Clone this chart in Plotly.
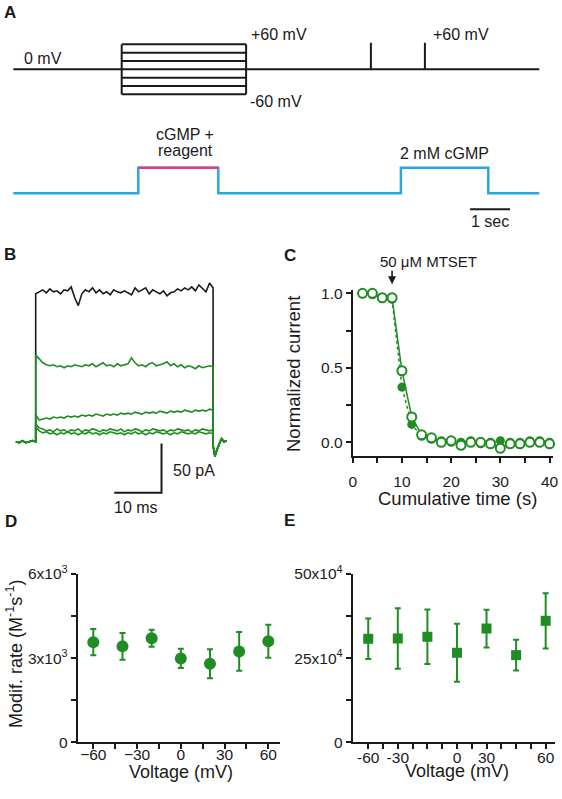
import numpy as np
import plotly.graph_objects as go

W, H = 562, 799
FONT = "Liberation Sans, Arial, sans-serif"
GREEN = "#1f8c24"
BLUE = "#2aa7e0"
PINK = "#e8388a"
INK = "#1a1a1a"

# ---------------- Panel A: protocol ----------------
step_levels_mv = [-60, -40, -20, 0, 20, 40, 60]
step_on_s, step_off_s = 2.71, 5.82
protocol_t = [0, 2.71, None, 5.82, 8.94, 8.94, 8.94, 10.29, 10.29, 10.29, 13.15]
protocol_mv = [0, 0, None, 0, 0, 64, 0, 0, 64, 0, 0]
sol_t = [0, 3.125, 3.125, 5.125, 5.125, 9.69, 9.69, 11.875, 11.875, 13.15]
sol_state = [0, 0, 1, 1, 0, 0, 1, 1, 0, 0]
reagent_t = [3.125, 5.125]
reagent_state = [1, 1]
sec_bar_t = [11.42, 12.42]
sec_bar_level = [-0.625, -0.625]

# ---------------- Panel B: current traces ----------------
pre_t = [-4.2, -3.5, -2.8, -2.1, -1.4, -0.7, 0]
pre_pA = [0, -1, 1, -1, 0, 1, 0]
pulse_t = list(np.round(np.arange(0, 37.51, 0.75), 3))
black_pA = [150, 152, 154, 151, 155, 152, 153, 150, 154, 153, 157, 146, 138, 150, 154,
            152, 156, 151, 154, 150, 152, 149, 154, 152, 151, 153, 151, 149, 156, 152,
            154, 156, 150, 154, 152, 150, 153, 148, 151, 152, 155, 153, 156, 154, 157,
            153, 159, 155, 152, 161, 156]
green1_pA = [88, 84, 80, 78, 77, 78, 76, 77, 75, 77, 76, 78, 77, 76, 78, 77, 79, 76, 78,
             80, 77, 78, 76, 79, 77, 78, 79, 85, 80, 77, 78, 76, 79, 80, 77, 78, 79, 81,
             77, 79, 76, 78, 75, 77, 76, 74, 77, 75, 76, 77, 76]
green2_pA = [27, 22, 23, 24, 23, 25, 24, 25, 24, 26, 25, 26, 25, 27, 26, 27, 26, 28, 27,
             26, 28, 27, 28, 27, 29, 28, 29, 28, 30, 29, 28, 30, 29, 30, 29, 31, 30, 29,
             31, 30, 31, 30, 32, 31, 30, 32, 31, 32, 31, 33, 32]
green3_pA = [18, 14, 13, 11, 12, 10, 13, 11, 12, 10, 12, 11, 13, 10, 12, 11, 13, 12, 10,
             12, 11, 13, 12, 11, 13, 10, 12, 11, 13, 12, 10, 12, 11, 13, 12, 11, 12, 10,
             12, 11, 13, 12, 11, 12, 10, 12, 11, 13, 12, 11, 12]
green4_pA = [15, 11, 9, 10, 8, 9, 7, 9, 8, 10, 8, 9, 7, 9, 8, 10, 8, 9, 7, 9, 8, 10, 9,
             8, 9, 7, 9, 8, 10, 8, 9, 7, 9, 8, 10, 9, 8, 9, 7, 9, 8, 10, 9, 8, 9, 8, 10,
             9, 8, 9, 8]
tail_t = [37.5, 37.9, 38.3, 38.8, 39.3, 39.8, 40.4]
tail_pA = [-4, -15, -8, -2, 3, 0, 1]
bar_ms, bar_pA = 10, 50
bar_corner = (26.6, -51.7)

# ---------------- Panel C: time course ----------------
time_s = [2, 4, 6, 8, 10, 12, 14, 16, 18, 20, 22, 24, 26, 28, 30, 32, 34, 36, 38, 40]
open_norm = [1.00, 1.00, 0.97, 0.97, 0.48, 0.17, 0.05, 0.03, 0.00, 0.01, -0.02, 0.00,
             0.00, -0.01, -0.04, -0.01, -0.01, 0.00, 0.00, -0.01]
filled_norm = [1.00, 0.99, 0.97, 0.96, 0.37, 0.12, 0.04, 0.02, 0.01, 0.00, 0.00, 0.01,
               -0.01, 0.00, 0.01, 0.00, 0.00, 0.01, 0.01, 0.00]
mtset_time = 8

# ---------------- Panels D, E ----------------
voltage_mv = [-60, -40, -20, 0, 20, 40, 60]
rate_D = [3570, 3420, 3710, 2990, 2800, 3240, 3600]
err_D = [470, 475, 300, 345, 520, 690, 590]
rate_E = [307500, 308500, 313500, 266000, 338000, 259000, 361000]
err_E = [60000, 90000, 81000, 86000, 56000, 46000, 82000]
E_tickvals = [-60, -40, 0, 20, 60]
E_ticktext = ["-60", "-30", "0", "30", "60"]


def pxx(x):
    return x / W


def pxy(y):
    return 1 - y / H


fig = go.Figure()

# Panel A traces
for lv in step_levels_mv:
    fig.add_trace(go.Scatter(x=[step_on_s, step_off_s], y=[lv, lv], mode="lines",
                             line=dict(color=INK, width=2), xaxis="x", yaxis="y",
                             showlegend=False, hoverinfo="skip"))
for edge in (step_on_s, step_off_s):
    fig.add_trace(go.Scatter(x=[edge, edge], y=[min(step_levels_mv), max(step_levels_mv)],
                             mode="lines", line=dict(color=INK, width=2),
                             xaxis="x", yaxis="y", showlegend=False, hoverinfo="skip"))
fig.add_trace(go.Scatter(x=protocol_t, y=protocol_mv, mode="lines",
                         line=dict(color=INK, width=2), xaxis="x", yaxis="y",
                         showlegend=False, hoverinfo="skip"))
fig.add_trace(go.Scatter(x=sol_t, y=sol_state, mode="lines",
                         line=dict(color=BLUE, width=2.5), xaxis="x2", yaxis="y2",
                         showlegend=False, hoverinfo="skip"))
fig.add_trace(go.Scatter(x=reagent_t, y=reagent_state, mode="lines",
                         line=dict(color=PINK, width=2.5), xaxis="x2", yaxis="y2",
                         showlegend=False, hoverinfo="skip"))
fig.add_trace(go.Scatter(x=sec_bar_t, y=sec_bar_level, mode="lines",
                         line=dict(color=INK, width=2), xaxis="x2", yaxis="y2",
                         showlegend=False, hoverinfo="skip"))


# Panel B traces
def full_trace(vals):
    return pre_t + pulse_t + tail_t, pre_pA + vals + tail_pA


for vals, col in [(black_pA, INK), (green1_pA, GREEN), (green2_pA, GREEN),
                  (green3_pA, GREEN), (green4_pA, GREEN)]:
    tx, ty = full_trace(vals)
    fig.add_trace(go.Scatter(x=tx, y=ty, mode="lines", line=dict(color=col, width=1.6),
                             xaxis="x3", yaxis="y3", showlegend=False, hoverinfo="skip"))
cx, cy = bar_corner
fig.add_trace(go.Scatter(x=[cx - bar_ms, cx, cx], y=[cy, cy, cy + bar_pA], mode="lines",
                         line=dict(color=INK, width=2), xaxis="x3", yaxis="y3",
                         showlegend=False, hoverinfo="skip"))

# Panel C traces
fig.add_trace(go.Scatter(x=time_s, y=filled_norm, mode="lines+markers",
                         line=dict(color=GREEN, width=1.5, dash="dot"),
                         marker=dict(symbol="circle", size=9, color=GREEN),
                         xaxis="x4", yaxis="y4", showlegend=False, cliponaxis=False))
fig.add_trace(go.Scatter(x=time_s, y=open_norm, mode="lines+markers",
                         line=dict(color=GREEN, width=1.5),
                         marker=dict(symbol="circle", size=9, color="white",
                                     line=dict(width=2, color=GREEN)),
                         xaxis="x4", yaxis="y4", showlegend=False, cliponaxis=False))

# Panel D, E
fig.add_trace(go.Scatter(x=voltage_mv, y=rate_D, mode="markers",
                         marker=dict(symbol="circle", size=12, color=GREEN),
                         error_y=dict(type="data", array=err_D, color=GREEN,
                                      thickness=2, width=3),
                         xaxis="x5", yaxis="y5", showlegend=False, cliponaxis=False))
fig.add_trace(go.Scatter(x=voltage_mv, y=rate_E, mode="markers",
                         marker=dict(symbol="square", size=10, color=GREEN),
                         error_y=dict(type="data", array=err_E, color=GREEN,
                                      thickness=2, width=3),
                         xaxis="x6", yaxis="y6", showlegend=False, cliponaxis=False))

hidden = dict(visible=False, showgrid=False, zeroline=False, automargin=False)
tickfont = dict(family=FONT, size=15.5, color=INK)
axstyle = dict(showline=True, linecolor=INK, linewidth=2, ticks="outside", ticklen=5,
               tickwidth=2, tickcolor=INK, showgrid=False, zeroline=False,
               tickfont=tickfont, automargin=False)
minor_style = dict(ticks="outside", ticklen=5, tickwidth=2, tickcolor=INK)

fig.update_layout(
    width=W, height=H, autosize=False,
    margin=dict(l=0, r=0, t=0, b=0, pad=0, autoexpand=False),
    paper_bgcolor="white", plot_bgcolor="rgba(0,0,0,0)",
    showlegend=False,
    xaxis=dict(hidden, domain=[0, 1], range=[-0.3325, 13.7175], anchor="y"),
    yaxis=dict(hidden, domain=[pxy(120), pxy(0)], range=[-121.7, 166.3], anchor="x"),
    xaxis2=dict(hidden, domain=[0, 1], range=[-0.3325, 13.7175], anchor="y2"),
    yaxis2=dict(hidden, domain=[pxy(230), pxy(120)], range=[-1.434, 2.863], anchor="x2"),
    xaxis3=dict(hidden, domain=[0, pxx(280)], range=[-7.548, 51.65], anchor="y3"),
    yaxis3=dict(hidden, domain=[pxy(520), pxy(240)], range=[-79.41, 204.56], anchor="x3"),
    xaxis4=dict(axstyle, domain=[pxx(352.7), pxx(553)], range=[0, 40.7], anchor="y4",
                tickmode="linear", tick0=0, dtick=10, ticklabelstandoff=6,
                minor=dict(minor_style, dtick=5, tick0=0)),
    yaxis4=dict(axstyle, domain=[pxy(455.7), pxy(290)], range=[-0.09, 1.022], anchor="x4",
                tickmode="linear", tick0=0, dtick=0.5, tickformat=".1f",
                minor=dict(minor_style, dtick=0.25, tick0=0)),
    xaxis5=dict(axstyle, domain=[pxx(77.7), pxx(280)], range=[-70.7, 68], anchor="y5",
                tickmode="linear", tick0=-60, dtick=30, ticklabelstandoff=-8,
                minor=dict(minor_style, dtick=15, tick0=-60)),
    yaxis5=dict(axstyle, domain=[pxy(742.3), pxy(574)], range=[0, 6000], anchor="x5",
                tickmode="array", tickvals=[0, 3000, 6000],
                ticktext=["0", "3x10<sup>3</sup>", "6x10<sup>3</sup>"],
                minor=dict(minor_style, tickvals=[1500, 4500])),
    xaxis6=dict(axstyle, domain=[pxx(352.7), pxx(555)], range=[-70.5, 66.3], anchor="y6",
                tickmode="array", tickvals=E_tickvals, ticktext=E_ticktext,
                ticklabelstandoff=-5,
                minor=dict(minor_style, tickvals=[-50, -30, -20, -10, 10, 30, 40, 50])),
    yaxis6=dict(axstyle, domain=[pxy(742.3), pxy(574)], range=[0, 500000], anchor="x6",
                tickmode="array", tickvals=[0, 250000, 500000],
                ticktext=["0", "25x10<sup>4</sup>", "50x10<sup>4</sup>"],
                minor=dict(minor_style, tickvals=[125000, 375000])),
)

ann = []


def label(text, x, y, size=16, xanchor="left", bold=False, angle=0):
    ann.append(dict(text=("<b>%s</b>" % text) if bold else text, x=pxx(x), y=pxy(y),
                    xref="paper", yref="paper", showarrow=False, xanchor=xanchor,
                    yanchor="middle", textangle=angle,
                    font=dict(family=FONT, size=size, color=INK)))


label("A", 2, 12.5, size=17, bold=True)
label("0 mV", 21.7, 58.3)
label("+60 mV", 249, 34.3)
label("-60 mV", 248, 101.7)
label("+60 mV", 431, 34.3)
label("cGMP +", 185, 134, xanchor="center")
label("reagent", 185, 150, xanchor="center")
label("2 mM cGMP", 445, 153.3, xanchor="center")
label("1 sec", 490, 221.7, xanchor="center")

label("B", 2, 254, size=17, bold=True)
label("50 pA", 171, 470)
label("10 ms", 136, 507, xanchor="center")

label("C", 282, 255, size=17, bold=True)
label("50 μM MTSET", 428.6, 261.7, size=15, xanchor="center")
label("Normalized current", 293, 374, size=18.5, xanchor="center", angle=-90)
label("Cumulative time (s)", 457.5, 498.3, size=18.5, xanchor="center")

label("D", 3, 521.7, size=17, bold=True)
label("Modif. rate (M<sup>-1</sup>s<sup>-1</sup>)", 14, 654, size=18, xanchor="center", angle=-90)
label("Voltage (mV)", 180.8, 772, size=18, xanchor="center")

label("E", 282, 520.5, size=17, bold=True)
label("Voltage (mV)", 456.7, 771, size=18, xanchor="center")

# MTSET arrow
ann.append(dict(text="", x=mtset_time, y=1.0, xref="x4", yref="y4", yshift=9,
                showarrow=True, arrowhead=2, arrowsize=1, arrowwidth=1.6,
                arrowcolor=INK, ax=0, ay=-15))

fig.update_layout(annotations=ann)
fig.write_html("out.html",
               config={"displayModeBar": False},
               post_script="document.body.style.margin='0px';"
                           "document.body.style.padding='0px';")
